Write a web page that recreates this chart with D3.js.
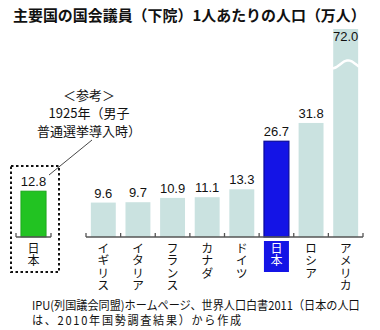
<!DOCTYPE html>
<html><head><meta charset="utf-8">
<script src="https://cdn.jsdelivr.net/npm/d3@7"></script>
<style>
html,body{margin:0;padding:0;background:#fff;}
svg{display:block;}
</style></head>
<body>
<script>
const titleText = "主要国の国会議員（下院）1人あたりの人口（万人）";
const refCategories = ["日本"];
const refValues = [12.8];
const categories = ["イギリス","イタリア","フランス","カナダ","ドイツ","日本","ロシア","アメリカ"];
const values = [9.6, 9.7, 10.9, 11.1, 13.3, 26.7, 31.8, 72.0];
const noteLines = ["＜参考＞", "1925年（男子", "普通選挙導入時）"];
const sourceLines = ["IPU(列国議会同盟)ホームページ、世界人口白書2011（日本の人口", "は、2010年国勢調査結果）から作成"];

const W = 380, H = 330;
const svg = d3.select("body").append("svg").attr("width", W).attr("height", H);
const jp = "'Noto Sans CJK JP','Noto Sans',sans-serif";
const num = "'Liberation Sans',Arial,sans-serif";

const baseY = 237;
const displayMax = 58; // values above this are drawn with a break
const y = d3.scaleLinear().domain([0, displayMax]).range([baseY, 29]);

const xMain = d3.scaleBand().domain(categories).range([86, 363]).paddingInner(0.28).paddingOuter(0.14);
const xRef = d3.scaleBand().domain(refCategories).range([16, 51]).paddingInner(0.28).paddingOuter(0.14);

const light = "#cae2e0", blue = "#1414e6", blueDark = "#0a0a9a", green = "#22c322";

// fit a text horizontally to a width by scaling
function fitWidth(sel, x, yy, w) {
  const n = sel.node().getComputedTextLength();
  const k = Math.min(1, w / n);
  sel.attr("x", 0).attr("y", 0).attr("transform", `translate(${x},${yy}) scale(${k},1)`);
}

// title
const title = svg.append("text").attr("font-family", jp).attr("font-weight", "bold")
  .attr("font-size", 15).attr("fill", "#111").text(titleText);
fitWidth(title, 13, 21, 353);

// dotted box
svg.append("rect").attr("x", 11).attr("y", 166).attr("width", 48).attr("height", 106)
  .attr("fill", "none").attr("stroke", "#111").attr("stroke-width", 2).attr("stroke-dasharray", "2.5,2.5");

// axes
function drawAxis(scale, cats) {
  const r = scale.range(), step = scale.step();
  svg.append("line").attr("x1", r[0]).attr("x2", r[1]).attr("y1", baseY).attr("y2", baseY)
    .attr("stroke", "#555").attr("stroke-width", 1.3);
  for (let i = 0; i <= cats.length; i++) {
    const xx = r[0] + i * step;
    svg.append("line").attr("x1", xx).attr("x2", xx).attr("y1", baseY).attr("y2", baseY - 4)
      .attr("stroke", "#555").attr("stroke-width", 1.3);
  }
}

// reference bar
svg.selectAll(".refbar").data(refValues).enter().append("rect")
  .attr("x", (d, i) => xRef(refCategories[i])).attr("width", xRef.bandwidth())
  .attr("y", d => y(d)).attr("height", d => baseY - y(d))
  .attr("fill", green).attr("stroke", "#1aa01a").attr("stroke-width", 0.8);
svg.selectAll(".reflab").data(refValues).enter().append("text")
  .attr("x", (d, i) => xRef(refCategories[i]) + xRef.bandwidth() / 2).attr("y", d => y(d) - 5)
  .attr("text-anchor", "middle").attr("font-family", num).attr("font-size", 13).attr("fill", "#111")
  .text(d => d.toFixed(1));

// main bars
const isJapan = c => c === "日本";
svg.selectAll(".bar").data(values).enter().append("rect")
  .attr("x", (d, i) => xMain(categories[i])).attr("width", xMain.bandwidth())
  .attr("y", d => y(Math.min(d, displayMax))).attr("height", d => baseY - y(Math.min(d, displayMax)))
  .attr("fill", (d, i) => isJapan(categories[i]) ? blue : light)
  .attr("stroke", (d, i) => isJapan(categories[i]) ? blueDark : "none")
  .attr("stroke-width", 1.2);

drawAxis(xRef, refCategories);
drawAxis(xMain, categories);

// value labels
values.forEach((v, i) => {
  const cx = xMain(categories[i]) + xMain.bandwidth() / 2;
  const broken = v > displayMax;
  svg.append("text").attr("x", cx).attr("y", broken ? y(displayMax) + 12 : y(v) - 5)
    .attr("text-anchor", "middle").attr("font-family", num).attr("font-size", 13).attr("fill", "#111")
    .text(v.toFixed(1));
  if (broken) {
    const x0 = xMain(categories[i]), bw = xMain.bandwidth(), yc = y(displayMax * 0.83);
    const pts = d3.range(0, 1.0001, 0.05).map(t => [x0 - 1 + t * (bw + 2), yc + 4 * Math.cos(t * Math.PI * 1.7)]);
    svg.append("path").attr("d", d3.line().curve(d3.curveBasis)(pts))
      .attr("fill", "none").attr("stroke", "#fff").attr("stroke-width", 2.5);
  }
});

// category labels (vertical writing)
function vLabel(cx, label, hi) {
  const top = 241;
  if (hi) {
    svg.append("rect").attr("x", cx - 12.5).attr("y", top).attr("width", 25).attr("height", 31).attr("fill", blue);
  }
  svg.append("text").attr("x", cx).attr("y", top + 1)
    .style("writing-mode", "vertical-rl").style("text-orientation", "upright")
    .style("letter-spacing", "0.6px")
    .attr("font-family", jp).attr("font-size", 12).attr("fill", hi ? "#fff" : "#111").text(label);
}
refCategories.forEach(c => vLabel(xRef(c) + xRef.bandwidth() / 2, c, false));
categories.forEach(c => vLabel(xMain(c) + xMain.bandwidth() / 2, c, isJapan(c)));

// note
noteLines.forEach((t, k) => {
  svg.append("text").attr("x", 89).attr("y", 100 + k * 18).attr("text-anchor", "middle")
    .attr("font-family", jp).attr("font-size", 13).attr("fill", "#111").text(t);
});
svg.append("line").attr("x1", 49).attr("y1", 175).attr("x2", 92).attr("y2", 140)
  .attr("stroke", "#333").attr("stroke-width", 0.9);

// source (one text block, two lines)
const src = svg.append("text").attr("font-family", jp).attr("font-size", 12).attr("fill", "#111");
const t1 = src.append("tspan").attr("x", 0).attr("y", 0).text(sourceLines[0]);
const t2 = src.append("tspan").attr("x", 0).attr("y", 15).text(sourceLines[1]);
const len1 = t1.node().getComputedTextLength();
const kS = Math.min(1, 328 / len1);
const len2 = t2.node().getComputedTextLength();
const want2 = 211 / kS;
const nch2 = Array.from(sourceLines[1]).length;
if (want2 > len2) t2.style("letter-spacing", ((want2 - len2) / nch2) + "px");
src.attr("transform", `translate(32,310) scale(${kS},1)`);
</script>
</body></html>
